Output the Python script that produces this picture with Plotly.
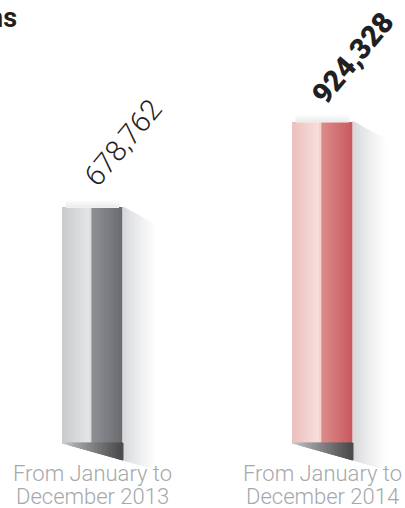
import plotly.graph_objects as go

# ---- data ----
categories = ["From January to December 2013", "From January to December 2014"]
label_line1 = ["From January to", "From January to"]
label_line2 = ["December 2013", "December 2014"]
values = [678762, 924328]
value_labels = ["678,762", "924,328"]
value_bold = [False, True]
title_fragment = "ns"

# ---- geometry (pixel-based scale helpers) ----
W, H = 405, 508
PX_X = 230.0              # pixels per category unit
X0_PX = 92.5              # pixel of first category centre
ZERO_PX = 443.0           # pixel row of value 0
K = 2876.0                # value units per pixel
xpos = list(range(len(categories)))
x_range = [-X0_PX / PX_X, (W - X0_PX) / PX_X]
y_range = [-(H - ZERO_PX) * K, ZERO_PX * K]

def ux(px):
    return px / PX_X

def uy(px):
    return px * K

BAR_PX = 61.0
bw = ux(BAR_PX)

def hex2rgb(h):
    h = h.lstrip("#")
    return tuple(int(h[i:i + 2], 16) for i in (0, 2, 4))

def mix(a, b, t):
    ra, rb = hex2rgb(a), hex2rgb(b)
    return "rgb(%d,%d,%d)" % tuple(round(ra[i] + (rb[i] - ra[i]) * t) for i in range(3))

# bar face gradients: (start_px, end_px, colour_from, colour_to) per series
gray_faces = [(0, 27, "#c8c9cb", "#e5e6e8"), (27, 29, "#dedfe1", "#dedfe1"),
              (29, 30, "#aeafb2", "#aeafb2"), (30, 60, "#8f9094", "#6a6b70"),
              (60, 61, "#a9aaad", "#a9aaad")]
red_faces = [(0, 27, "#ecbfbe", "#f7dfdc"), (27, 29, "#f2d2cf", "#f2d2cf"),
             (29, 30, "#e2a3a1", "#e2a3a1"), (30, 60, "#dc8b89", "#c85a5f"),
             (60, 61, "#d98f8e", "#d98f8e")]

fig = go.Figure()

def poly(xs, ys, col):
    fig.add_trace(go.Scatter(
        x=xs, y=ys, fill="toself", fillcolor=col, mode="lines",
        line=dict(width=1, color=col), hoverinfo="skip", showlegend=False))

# ---- shadows (drawn from the bar positions/values) ----
SLOPE_BOTTOM = 0.28
SLOPE_TOP = 0.55
for i, (xc, v) in enumerate(zip(xpos, values)):
    left = xc - bw / 2
    right = xc + bw / 2
    # glow above bar top
    for j in range(6):
        g = 6 - j
        col = mix("#ffffff", "#eeeeef", (j + 1) / 6)
        poly([left + ux(4), right - ux(4), right - ux(4), left + ux(4), left + ux(4)],
             [v, v, v + uy(g), v + uy(g), v], col)
    # side shadow to the right (drawn far -> near so nearer strips overlap)
    m = 16
    span = 32.0
    for j in reversed(range(m)):
        d0 = span * j / m
        d1 = span * (j + 1) / m + 1.0
        xa = right + ux(d0)
        xb = right + ux(d1)
        col = mix("#d7d8db", "#ffffff", ((j + 0.5) / m) ** 0.8)
        ya_top = v - uy(SLOPE_TOP * d0)
        yb_top = v - uy(SLOPE_TOP * d1)
        ya_bot = -uy(SLOPE_BOTTOM * (BAR_PX + d0))
        yb_bot = -uy(SLOPE_BOTTOM * (BAR_PX + d1))
        poly([xa, xb, xb, xa, xa], [ya_top, yb_top, yb_bot, ya_bot, ya_top], col)
    # dark floor shadow under bar
    n = 24
    for j in range(n):
        a = j / n
        b = min(1.0, (j + 1.6) / n)
        xa = left + a * bw
        xb = left + b * bw
        t = ((a + b) / 2) ** 0.8
        col = mix("#d2d2d3", "#4a4a4d", t)
        poly([xa, xb, xb, xa, xa],
             [0, 0, -uy(SLOPE_BOTTOM * (xb - left) * PX_X), -uy(SLOPE_BOTTOM * (xa - left) * PX_X), 0],
             col)

# ---- bars as gradient slices ----
for gseg, rseg in zip(gray_faces, red_faces):
    s0, s1 = gseg[0], gseg[1]
    steps = max(1, int((s1 - s0) / 3))
    for k in range(steps):
        p0 = s0 + (s1 - s0) * k / steps
        p1 = s0 + (s1 - s0) * (k + 1) / steps
        t = (k + 0.5) / steps
        cols = [mix(gseg[2], gseg[3], t), mix(rseg[2], rseg[3], t)]
        fig.add_trace(go.Bar(
            x=xpos, y=values, base=0,
            width=ux(p1 - p0 + 0.4), offset=-bw / 2 + ux(p0),
            marker=dict(color=cols, line=dict(width=0)),
            hoverinfo="skip", showlegend=False))

# ---- annotations ----
ann = []
for xc, v, lab, bold in zip(xpos, values, value_labels, value_bold):
    ann.append(dict(
        x=xc, y=v, xref="x", yref="y", text=lab, showarrow=False,
        xshift=30, yshift=64, textangle=-50, xanchor="center", yanchor="middle",
        font=dict(family="Roboto, Liberation Sans, sans-serif", size=29,
                  color="#231f20", weight=900 if bold else 300)))
for xc, l1, l2 in zip(xpos, label_line1, label_line2):
    ann.append(dict(x=xc, y=0, xref="x", yref="y", text=l1, showarrow=False,
                    yshift=-30, xanchor="center", yanchor="middle",
                    font=dict(family="Roboto, Liberation Sans, sans-serif", size=22,
                              color="#a6a8ab", weight=300)))
    ann.append(dict(x=xc, y=0, xref="x", yref="y", text=l2, showarrow=False,
                    yshift=-53, xanchor="center", yanchor="middle",
                    font=dict(family="Roboto, Liberation Sans, sans-serif", size=22,
                              color="#a6a8ab", weight=300)))
ann.append(dict(x=19 / W, y=1 - 18 / H, xref="paper", yref="paper", text=title_fragment,
                showarrow=False, xanchor="right", yanchor="middle",
                font=dict(family="Roboto, Liberation Sans, sans-serif", size=27,
                          color="#231f20", weight=700)))

fig.update_layout(
    width=W, height=H, margin=dict(l=0, r=0, t=0, b=0),
    paper_bgcolor="white", plot_bgcolor="white",
    barmode="overlay", bargap=0,
    xaxis=dict(range=x_range, visible=False, fixedrange=True),
    yaxis=dict(range=y_range, visible=False, fixedrange=True),
    annotations=ann, showlegend=False,
)

fig.write_html("out.html", config={"displayModeBar": False})
